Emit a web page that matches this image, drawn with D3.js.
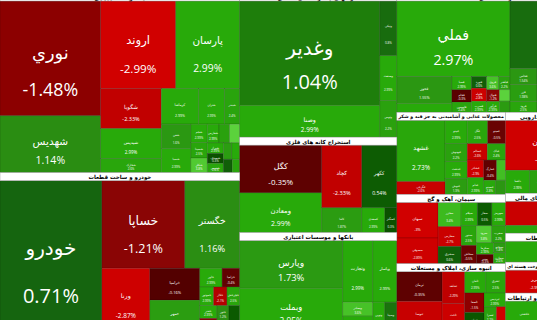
<!DOCTYPE html>
<html>
<head>
<meta charset="utf-8">
<script src="https://cdnjs.cloudflare.com/ajax/libs/d3/7.8.5/d3.min.js"></script>
<style>
	body {
		padding: 0;
		margin: 0;
		overflow: hidden;
		background: #fff;
	}
	.cell {
		stroke: rgba(0,0,0,0.22);
		stroke-width: 0.7;
	}
	.head rect {
		fill: #fff;
		stroke: #9a9a9a;
		stroke-width: 0.5;
	}
	.head text {
		fill: #000;
		font-family: "DejaVu Sans", sans-serif;
		font-weight: bold;
	}
	.lbl {
		fill: #fff;
		text-anchor: middle;
		dominant-baseline: central;
	}
</style>
</head>
<body>
<div id="chart"></div>
<script>

// Window size, the map itself is a bit larger and gets cropped
var W = 537, H = 320;
var mapW = 600, mapH = 337, mapTop = -7;
var HEAD = 8;

// Sector titles
var sectorNames = [
	"محصولات شیمیایی",
	"خودرو و ساخت قطعات",
	"شرکتهای چند رشته ای صنعتی",
	"استخراج کانه های فلزی",
	"بانکها و موسسات اعتباری",
	"فلزات اساسی",
	"محصولات غذایی و آشامیدنی به جز قند و شکر",
	"سیمان، آهک و گچ",
	"انبوه سازی، املاک و مستغلات",
	"مواد و محصولات دارویی",
	"سایر واسطه گری های مالی",
	"اطلاعات و ارتباطات",
	"فرآورده های نفتی، کک و سوخت هسته ای",
	"حمل و نقل، انبارداری و ارتباطات"
];

// Tickers, market value (relative) and daily change % per sector
var chemTickers = ["نوري","شهديس","اروند","پارسان","شگويا","شپديس","شخارک","کرماشا","شتران","شبندر","شفن","شسپا",
	"شجم","شسینا","شکلر","شفارس","شلعاب","شاملا","شیراز","شصدف","شدوص","شکربن","شپاکسا","شنفت","شرانل"];
var chemCaps = [11615,5757,6600,5632,2440,1830,854,1332,936,540,720,720,
	300,260,240,220,200,190,170,160,150,140,130,120,100];
var chemChanges = [-1.48,1.14,-2.99,2.99,-2.33,2.99,2.6,2.99,2.99,2.4,1.6,2.99,
	2.99,2.5,3.8,2.99,2.2,4,2.99,0.3,2.6,1.9,2.99,0.6,2.4];

var autoTickers = ["خودرو","خساپا","خگستر","ورنا","خراميا","خمهر",
	"خاور","خزامیا","خموتور","خکار","خچرخش","خفنر","خلنت","ختور","خبهمن","خشرق","خریخت"];
var autoCaps = [15300,7304,4840,2976,1600,1500,
	420,330,260,250,240,220,200,180,160,130,90];
var autoChanges = [0.71,-1.21,1.16,-2.87,-0.16,1.9,
	2.99,-0.4,2.99,-2.1,2.5,2.99,-0.8,1.2,0.5,2.99,3.5];

var multiTickers = ["وغدير","وصنا","ونیکی","وصنعت","وتوس"];
var multiCaps = [14700,4480,935,765,629];
var multiChanges = [1.04,2.99,0.8,2.99,2.2];

var mineTickers = ["کگل","ومعادن","کچاد","کاما","کگهر","کسعدی","کمنگنز"];
var mineCaps = [3936,3280,2520,1000,2205,575,300];
var mineChanges = [-0.35,2.99,-2.33,1.87,0.54,2.99,0.3];

var bankTickers = ["وپارس","وبملت","وتجارت","وبصادر","وخاور","وپاسار","ونوين","وسینا"];
var bankCaps = [4944,4326,1860,420,420,1488,336,336];
var bankChanges = [1.73,2.95,2.99,3.6,2.99,2.99,2.99,0.9];

var metalTickers = ["فملي","فخوز","فولاژ","فسپا","فجام","فاسمین","فنورد","فلوله","فسرب","فروی","فباهنر","فنوال","فرآور","فگستر","فجر",
	"فولاد","فخاس","فزر","فرود","کاوه","فاما","فغدیر"];
var metalCaps = [8588,1485,495,260,240,200,180,200,170,160,150,150,140,120,118,
	6120,432,459,297,1200,900,672];
var metalChanges = [2.97,1.55,2.99,2.99,-0.3,2.4,0.6,-2.8,2.99,3.6,2.2,-1.2,2.99,4,1.8,
	0.82,1.54,1.98,2.5,2.99,1.1,2.6];

var foodTickers = ["غشهد","غگرجی","غپینو","غگل","غمینو","غبهنوش","غدشت","غنوش","غسالم","غپاک","غشاذر","غدام","غمارگ","غزر","غصینو","غالبر"];
var foodCaps = [2976,624,520,480,420,400,380,350,330,300,290,280,260,180,170,140];
var foodChanges = [2.73,-2.6,2.99,2.5,-0.5,2.2,2.99,1.9,-2.6,2.4,-2.9,2.99,-0.4,3.5,2.8,1.5];

var cementTickers = ["سبهان","سصوفي","سخزر","سفارس","سشرق","سیلام","سفار","سهرمز","سدور","سخاش","سرود","سغرب","سکرما","سنیر","سبجنو","سمازن"];
var cementCaps = [1476,1066,560,460,400,380,340,320,300,280,260,240,200,160,120,134];
var cementChanges = [-3,-2.89,3.4,-2.7,0.6,2.99,0.5,2.99,2.5,-0.5,3.8,2.2,2.99,-0.3,1.8,2.6];

var estateTickers = ["ثرمان","ثنوسا","ثشاهد","ثاخت","ثامان","ثشرق","ثاصفا","ثتران","ثپردیس","ثعمرا","ثباغ","ثمسکن"];
var estateCaps = [1350,1305,725,600,450,420,380,340,300,220,160,122];
var estateChanges = [-0.35,-2.6,-2.29,-2.8,2.99,2.5,-1.5,0.4,2.99,2.2,-2.9,1.2];

var pharmaTickers = ["دسبحان","دعبید","دلقما","دجابر","دفرا","دکیمی","دتماد"];
var pharmaCaps = [4000,750,560,500,450,380,295];
var pharmaChanges = [-2.9,2.4,2.99,2.2,2.99,2.6,-2.5];

var finTickers = ["وسالت","وبیمه"];
var finCaps = [2300,740];
var finChanges = [-2.67,2.6];

var itTickers = ["رتاپ"];
var itCaps = [1995];
var itChanges = [2.89];

var oilTickers = ["شبریز","شپنا"];
var oilCaps = [1400,785];
var oilChanges = [-2.95,2.99];

var transTickers = ["حکشتی","حفارس","حتوکا","حپترو"];
var transCaps = [1100,700,520,435];
var transChanges = [2.99,-2.4,2.5,1.2];

// lookup by ticker
var lookup = new Map();
[[chemTickers,chemCaps,chemChanges],[autoTickers,autoCaps,autoChanges],[multiTickers,multiCaps,multiChanges],
 [mineTickers,mineCaps,mineChanges],[bankTickers,bankCaps,bankChanges],[metalTickers,metalCaps,metalChanges],
 [foodTickers,foodCaps,foodChanges],[cementTickers,cementCaps,cementChanges],[estateTickers,estateCaps,estateChanges],
 [pharmaTickers,pharmaCaps,pharmaChanges],[finTickers,finCaps,finChanges],[itTickers,itCaps,itChanges],
 [oilTickers,oilCaps,oilChanges],[transTickers,transCaps,transChanges]]
	.forEach(function(s) {
		s[0].forEach(function(t, i) { lookup.set(t, {name: t, cap: s[1][i], change: s[2][i]}); });
	});

// How blocks are split: dice = side by side, slice = stacked, sq = squarified
function L(mode) { return {mode: mode, kids: Array.prototype.slice.call(arguments, 1)}; }

var chemLayout = L("dice", L("slice","نوري","شهديس"),
	L("slice", L("dice","اروند","پارسان"),
		L("dice", L("slice","شگويا","شپديس","شخارک"),
			L("slice", L("dice","کرماشا","شتران","شبندر"),
				L("dice", L("slice","شفن","شسپا"), L.apply(null, ["sq"].concat(chemTickers.slice(12))))))));
var autoLayout = L("dice", "خودرو",
	L("slice", L("dice","خساپا","خگستر"),
		L("dice","ورنا", L("slice","خراميا","خمهر"), L.apply(null, ["sq"].concat(autoTickers.slice(6))))));
var multiLayout = L("dice", L("slice","وغدير","وصنا"), L("slice","ونیکی","وصنعت","وتوس"));
var mineLayout = L("dice", L("slice","کگل","ومعادن"), L("slice","کچاد","کاما"),
	L("slice","کگهر", L("dice","کسعدی","کمنگنز")));
var bankLayout = L("dice", L("slice","وپارس","وبملت"), L("slice","وتجارت", L("sq","وبصادر","وخاور")),
	L("slice","وپاسار", L("sq","ونوين","وسینا")));
var metalLayout = L("dice",
	L("slice","فملي", L("dice", L("slice","فخوز","فولاژ"), L.apply(null, ["sq"].concat(metalTickers.slice(3, 15))))),
	L("slice","فولاد", L("dice", L("slice","فخاس","فزر","فرود"), L("sq","کاوه","فاما","فغدیر"))));
var foodLayout = L("dice", L("slice","غشهد","غگرجی"), L.apply(null, ["sq"].concat(foodTickers.slice(2))));
var cementLayout = L("dice", L("slice","سبهان","سصوفي"), L.apply(null, ["sq"].concat(cementTickers.slice(2))));
var estateLayout = L("dice", L("slice","ثرمان","ثنوسا"), L.apply(null, ["sq"].concat(estateTickers.slice(2))));
var pharmaLayout = L("slice", L("dice","دسبحان","دعبید"), L.apply(null, ["sq"].concat(pharmaTickers.slice(2))));
var finLayout = L("slice","وسالت","وبیمه");
var itLayout = L("slice","رتاپ");
var oilLayout = L("dice","شبریز","شپنا");
var transLayout = L.apply(null, ["sq"].concat(transTickers));

function toNode(spec, header) {
	if (typeof spec === "string") return Object.assign({}, lookup.get(spec));
	return {mode: spec.mode, header: header, children: spec.kids.map(function(k) { return toNode(k); })};
}
function sec(i, layout) { return toNode(layout, sectorNames[i]); }

var tree = {mode: "dice", children: [
	{mode: "slice", children: [sec(0, chemLayout), sec(1, autoLayout)]},
	{mode: "slice", children: [sec(2, multiLayout), sec(3, mineLayout), sec(4, bankLayout)]},
	{mode: "slice", children: [sec(5, metalLayout),
		{mode: "dice", children: [
			{mode: "slice", children: [sec(6, foodLayout), sec(7, cementLayout), sec(8, estateLayout)]},
			{mode: "slice", children: [sec(9, pharmaLayout), sec(10, finLayout), sec(11, itLayout),
				sec(12, oilLayout), sec(13, transLayout)]}
		]}
	]}
]};

// children must fill the box, so split by the children's total only
function tile(node, x0, y0, x1, y1) {
	var m = node.data.mode;
	var own = node.value;
	node.value = d3.sum(node.children, function(c) { return c.value; });
	if (m === "dice") d3.treemapDice(node, x0, y0, x1, y1);
	else if (m === "slice") d3.treemapSlice(node, x0, y0, x1, y1);
	else d3.treemapSquarify.ratio(1.2)(node, x0, y0, x1, y1);
	node.value = own;
}

// header strips take room, so give each sector some extra value for it (a few passes)
var root = d3.hierarchy(tree);
var extra = new Map();
var treemap = d3.treemap()
	.size([mapW, mapH])
	.tile(tile)
	.paddingTop(function(n) { return n.data.header ? HEAD : 0; });
for (var k = 0; k < 4; k++) {
	root.sum(function(d) { return d.children ? (extra.get(d) || 0) : d.cap; });
	treemap(root);
	root.each(function(n) { if (n.data.header) extra.set(n.data, HEAD * (n.x1 - n.x0)); });
}

// Colours
var negColor = d3.scaleLinear()
	.domain([-3, -2.3, -1.4, -1.0, -0.3, 0])
	.range(["#d10000", "#c00000", "#870000", "#8d0a0a", "#5a0000", "#4a0000"])
	.clamp(true);
var posColor = d3.scaleLinear()
	.domain([0, 0.5, 0.7, 1.04, 1.15, 1.7, 2.5, 3, 4])
	.range(["#0a4400", "#0b5a00", "#15640f", "#1e7e0b", "#2b8e13", "#2b9a12", "#29a50c", "#28aa0a", "#5bd23c"])
	.clamp(true);
function color(c) { return c < 0 ? negColor(c) : posColor(c); }
function fmt(c) { return (+c.toFixed(2)) + "%"; }

var svg = d3.select("#chart")
	.append("svg")
	.attr("width", W)
	.attr("height", H);

var g = svg.append("g").attr("transform", "translate(0," + mapTop + ")");

var leaves = g.selectAll("g.leaf")
	.data(root.leaves())
	.join("g")
	.attr("class", "leaf");

leaves.append("rect")
	.attr("class", "cell")
	.attr("x", function(d) { return d.x0; })
	.attr("y", function(d) { return d.y0; })
	.attr("width", function(d) { return d.x1 - d.x0; })
	.attr("height", function(d) { return d.y1 - d.y0; })
	.attr("fill", function(d) { return color(d.data.change); });

function fsize(d) {
	var w = d.x1 - d.x0, h = d.y1 - d.y0;
	var f = 0.016 * Math.pow(w * h, 0.75);
	f = Math.min(f, 20, w / 4.2, h / 5);
	return Math.max(f, 3);
}

var labelled = leaves.filter(function(d) { return (d.x1 - d.x0) > 11 && (d.y1 - d.y0) > 9; });

labelled.append("text")
	.attr("class", "lbl")
	.attr("x", function(d) { return (d.x0 + d.x1) / 2; })
	.attr("y", function(d) { return d.y0 + (d.y1 - d.y0) * 0.45; })
	.style("font-family", "'DejaVu Sans', sans-serif")
	.style("font-size", function(d) { return fsize(d) + "px"; })
	.text(function(d) { return d.data.name; });

labelled.append("text")
	.attr("class", "lbl")
	.attr("x", function(d) { return (d.x0 + d.x1) / 2; })
	.attr("y", function(d) { return d.y0 + (d.y1 - d.y0) * 0.77; })
	.style("font-family", "'Open Sans', sans-serif")
	.style("font-size", function(d) { return fsize(d) + "px"; })
	.text(function(d) { return fmt(d.data.change); });

// Sector header strips
var heads = g.selectAll("g.head")
	.data(root.descendants().filter(function(n) { return n.data.header; }))
	.join("g")
	.attr("class", "head");

heads.append("rect")
	.attr("x", function(d) { return d.x0; })
	.attr("y", function(d) { return d.y0; })
	.attr("width", function(d) { return d.x1 - d.x0; })
	.attr("height", HEAD);

heads.append("text")
	.attr("x", function(d) { return (d.x0 + d.x1) / 2; })
	.attr("y", function(d) { return d.y0 + HEAD / 2 + 0.5; })
	.attr("text-anchor", "middle")
	.attr("dominant-baseline", "central")
	.style("font-size", "5.5px")
	.text(function(d) { return d.data.header; })
	.each(function(d) {
		// shrink a title that is wider than its strip
		var room = d.x1 - d.x0 - 3;
		var len = this.getComputedTextLength();
		if (len > room) d3.select(this).style("font-size", (5.5 * room / len) + "px");
	});

</script>
</body>
</html>
